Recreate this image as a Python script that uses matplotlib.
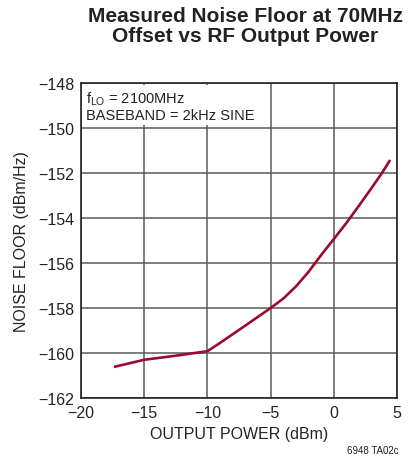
import matplotlib
matplotlib.use("Agg")
import matplotlib.pyplot as plt

# Measured noise floor vs output power
output_power_dbm = [-17.4, -15.0, -12.5, -10.0, -9.0, -7.0, -5.0, -4.0, -3.0, -2.0, -1.0,
                    0.0, 1.0, 2.0, 3.0, 3.8, 4.45]
noise_floor_dbm_hz = [-160.62, -160.3, -160.12, -159.92, -159.55, -158.78, -158.0, -157.58,
                      -157.04, -156.39, -155.64, -154.93, -154.21, -153.44, -152.65, -152.0, -151.42]

x_ticks = [-20, -15, -10, -5, 0, 5]
y_ticks = [-162, -160, -158, -156, -154, -152, -150, -148]

plt.rcParams["font.family"] = ["Liberation Sans", "DejaVu Sans"]

fig = plt.figure(figsize=(4.09, 4.60), dpi=100)
ax = fig.add_axes([0.198, 0.1326, 0.773, 0.6848])

ax.plot(output_power_dbm, noise_floor_dbm_hz, color="#9b0a30", linewidth=1.9,
        solid_capstyle="butt", solid_joinstyle="round", zorder=3)

ax.set_xlim(-20, 5)
ax.set_ylim(-162, -148)
ax.set_xticks(x_ticks)
ax.set_yticks(y_ticks)
ax.set_xticklabels([str(t).replace("-", "\u2212") for t in x_ticks])
ax.set_yticklabels([str(t).replace("-", "\u2212") for t in y_ticks])
ax.tick_params(length=0, labelsize=11.5, colors="#222222", pad=5)

ax.grid(True, color="#5a5a5a", linewidth=1.1)
ax.set_axisbelow(True)
for sp in ax.spines.values():
    sp.set_color("#222222")
    sp.set_linewidth(1.2)

ax.set_xlabel("OUTPUT POWER (dBm)", fontsize=11.5, color="#222222", labelpad=4)
ax.set_ylabel("NOISE FLOOR (dBm/Hz)", fontsize=11.5, color="#222222", labelpad=6)

ax.text(-19.6, -148.3, "f$_{\\mathregular{LO}}$ = 2100MHz\nBASEBAND = 2kHz SINE",
        fontsize=10.5, color="#222222", va="top", ha="left", linespacing=1.05,
        bbox=dict(facecolor="white", edgecolor="none", pad=2.5), zorder=2)

fig.text(0.6, 0.985, "Measured Noise Floor at 70MHz\nOffset vs RF Output Power",
         ha="center", va="top", fontsize=15, fontweight="bold", color="#222222",
         linespacing=1.05)
fig.text(0.975, 0.008, "6948 TA02c", ha="right", va="bottom", fontsize=7, color="#222222")

fig.savefig("out.png", dpi=100)
